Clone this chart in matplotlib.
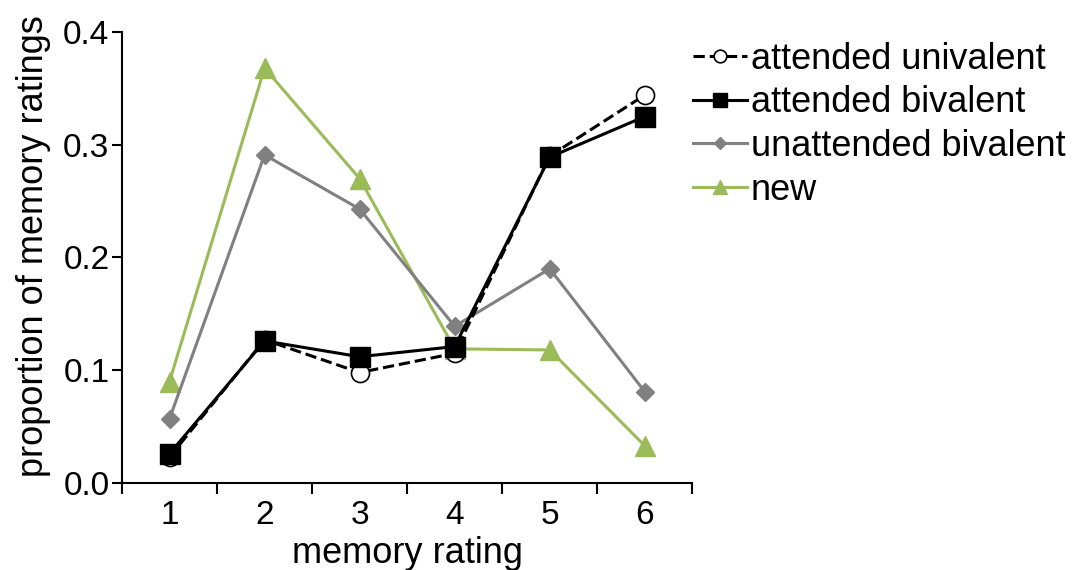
import matplotlib.pyplot as plt
import numpy as np

plt.rcParams['font.family'] = ['Liberation Sans', 'DejaVu Sans']

ratings = [1, 2, 3, 4, 5, 6]
att_univalent = [0.023, 0.127, 0.098, 0.115, 0.290, 0.344]
att_bivalent = [0.026, 0.126, 0.112, 0.121, 0.289, 0.325]
unatt_bivalent = [0.057, 0.291, 0.243, 0.139, 0.190, 0.081]
new = [0.090, 0.368, 0.270, 0.119, 0.118, 0.033]

green = '#9BBB59'
gray = '#808080'

fig = plt.figure(figsize=(10.72, 5.70), dpi=100)
ax = fig.add_axes([0.1138, 0.1526, 0.532, 0.7913])

ax.plot(ratings, att_univalent, '--o', color='black', lw=2.2, ms=13,
        mfc='white', mec='black', mew=1.2, label='attended univalent', zorder=4)
ax.plot(ratings, att_bivalent, '-s', color='black', lw=2.2, ms=14,
        label='attended bivalent', zorder=5)
ax.plot(ratings, unatt_bivalent, '-D', color=gray, lw=2.2, ms=9,
        label='unattended bivalent', zorder=3)
ax.plot(ratings, new, '-^', color=green, lw=2.2, ms=14,
        label='new', zorder=2)

ax.set_xlim(0.5, 6.5)
ax.set_ylim(0, 0.4)
# boundary ticks between categories, labels at the centres
ax.set_xticks(np.arange(0.5, 7, 1))
ax.set_xticklabels([])
ax.set_xticks(ratings, minor=True)
ax.set_xticklabels([str(r) for r in ratings], minor=True)
ax.tick_params(axis='x', which='major', length=8, width=1.5, direction='out')
ax.tick_params(axis='x', which='minor', length=0, labelsize=24, pad=12)
ax.set_yticks([0, 0.1, 0.2, 0.3, 0.4])
ax.set_yticklabels(['0.0', '0.1', '0.2', '0.3', '0.4'])
ax.tick_params(axis='y', length=7, width=1.5, direction='out', labelsize=24, pad=2)

for s in ['top', 'right']:
    ax.spines[s].set_visible(False)
for s in ['left', 'bottom']:
    ax.spines[s].set_linewidth(1.5)

ax.set_xlabel('memory rating', fontsize=26, labelpad=4)
ax.set_ylabel('proportion of memory ratings', fontsize=26, labelpad=6)
ax.yaxis.set_label_coords(-0.125, 0.525)

ax.legend(loc='upper left', bbox_to_anchor=(0.633, 0.952),
          bbox_transform=fig.transFigure, frameon=False, fontsize=26,
          handlelength=1.5, handletextpad=0.1, labelspacing=0.24,
          borderaxespad=0, markerscale=0.7)

fig.savefig('out.png', dpi=100)
